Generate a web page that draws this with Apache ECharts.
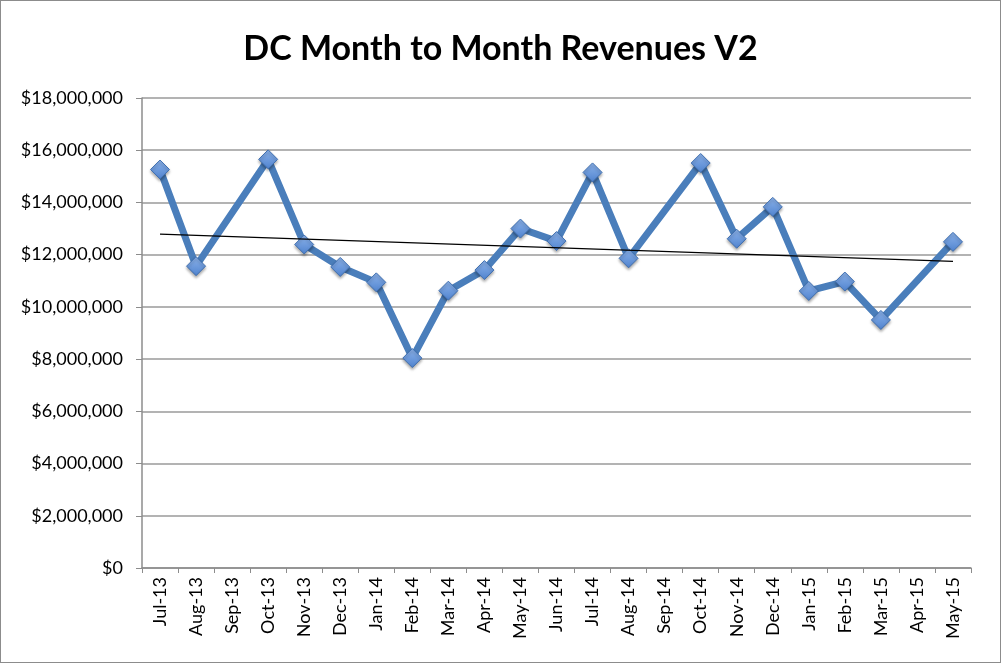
<!DOCTYPE html>
<html>
<head>
<meta charset="utf-8">
<script src="https://cdn.jsdelivr.net/npm/echarts@6/dist/echarts.min.js"></script>
<style>
  html, body { margin: 0; padding: 0; background: #fff; }
  #main { width: 1001px; height: 663px; box-sizing: border-box; border: 1px solid #8c8c8c; }
</style>
</head>
<body>
<div id="main"></div>
<script>
// months on the x axis
var months = ['Jul-13', 'Aug-13', 'Sep-13', 'Oct-13', 'Nov-13', 'Dec-13', 'Jan-14', 'Feb-14',
  'Mar-14', 'Apr-14', 'May-14', 'Jun-14', 'Jul-14', 'Aug-14', 'Sep-14', 'Oct-14', 'Nov-14',
  'Dec-14', 'Jan-15', 'Feb-15', 'Mar-15', 'Apr-15', 'May-15'];

// revenues (null = no point for that month)
var revenues = [15260000, 11560000, null, 15650000, 12390000, 11530000, 10940000, 8040000,
  10620000, 11410000, 13000000, 12520000, 15150000, 11860000, null, 15510000, 12610000,
  13830000, 10610000, 10970000, 9500000, null, 12490000];

// linear trendline, only its two ends
var trendStart = 12790000;
var trendEnd = 11740000;
var trend = months.map(function (m, i) {
  if (i === 0) return trendStart;
  if (i === months.length - 1) return trendEnd;
  return null;
});

var myChart = echarts.init(document.getElementById('main'));

function money(v) {
  return '$' + v.toString().replace(/\B(?=(\d{3})+(?!\d))/g, ',');
}

myChart.setOption({
  animation: false,
  textStyle: { fontFamily: 'Lato, "Open Sans", sans-serif' },
  title: {
    text: 'DC Month to Month Revenues V2',
    left: 'center',
    top: 26,
    textStyle: { fontSize: 34, fontWeight: 'bold', color: '#000', fontFamily: 'Lato, "Open Sans", sans-serif' }
  },
  grid: { left: 141, right: 29, top: 97, bottom: 94 },
  xAxis: {
    type: 'category',
    data: months,
    boundaryGap: true,
    axisLine: { lineStyle: { color: '#8c8c8c', width: 1.5 } },
    axisTick: { show: true, length: 5, interval: 0, lineStyle: { color: '#8c8c8c' } },
    axisLabel: { rotate: 90, interval: 0, fontSize: 18, color: '#000', margin: 9 },
    splitLine: { show: false }
  },
  yAxis: {
    type: 'value',
    min: 0,
    max: 18000000,
    interval: 2000000,
    axisLine: { show: true, lineStyle: { color: '#8c8c8c', width: 1.5 } },
    axisTick: { show: true, length: 6, lineStyle: { color: '#8c8c8c' } },
    axisLabel: { fontSize: 18, color: '#000', margin: 19, formatter: money },
    splitLine: { lineStyle: { color: '#9a9a9a', width: 1.5 } }
  },
  series: [
    {
      name: 'Revenue',
      type: 'line',
      data: revenues,
      connectNulls: true,
      lineStyle: { color: '#4a7ebb', width: 7 },
      symbol: 'diamond',
      symbolSize: 19,
      itemStyle: {
        color: new echarts.graphic.LinearGradient(0, 0, 0, 1, [
          { offset: 0, color: '#8db3ea' },
          { offset: 1, color: '#4f83cf' }
        ]),
        borderColor: '#3f6fb0',
        borderWidth: 1,
        shadowColor: 'rgba(0,0,0,0.35)',
        shadowBlur: 3,
        shadowOffsetY: 2
      },
      z: 3
    },
    {
      name: 'Trend',
      type: 'line',
      data: trend,
      connectNulls: true,
      showSymbol: false,
      symbol: 'none',
      lineStyle: { color: '#000', width: 1.2 },
      z: 4
    }
  ]
});
</script>
</body>
</html>
